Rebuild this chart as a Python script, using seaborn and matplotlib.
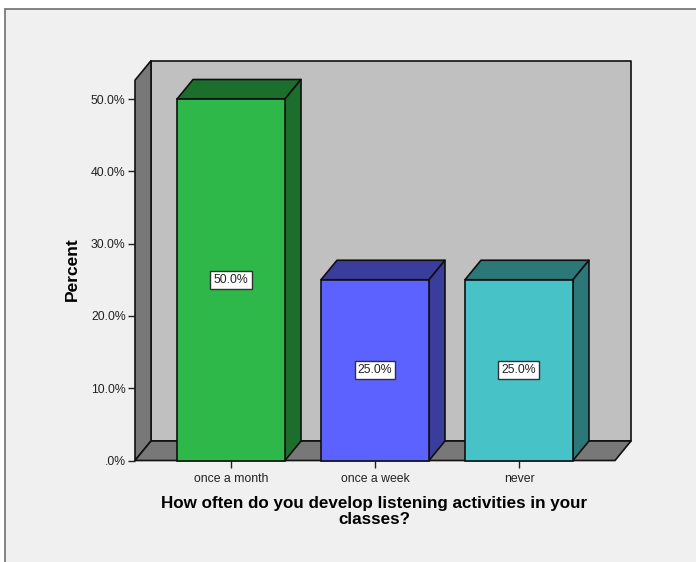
import matplotlib
matplotlib.use("Agg")
import matplotlib.pyplot as plt
import seaborn as sns
import pandas as pd
from matplotlib.patches import Rectangle

categories = ["once a month", "once a week", "never"]
percent = [50.0, 25.0, 25.0]
front_colors = ["#2EB84A", "#5B62FF", "#47C3C8"]
dark_colors = ["#1C6E2D", "#3A3D9C", "#2C7879"]
y_ticks = [0, 10, 20, 30, 40, 50]
y_labels = [".0%", "10.0%", "20.0%", "30.0%", "40.0%", "50.0%"]
x_title = "How often do you develop listening activities in your\nclasses?"
y_title = "Percent"

sns.set_theme(style="white")
plt.rcParams["font.family"] = ["Liberation Sans", "DejaVu Sans"]

W, H = 696, 562
fig = plt.figure(figsize=(W / 100, H / 100), dpi=100, facecolor="white")
fig.add_artist(Rectangle((5 / W, -0.01), 1.0, (H - 8.5) / H + 0.01, transform=fig.transFigure,
                         facecolor="#F0F0F0", edgecolor="#6E6E6E", linewidth=1.2, zorder=-5))

L, R, T, B = 135, 631, 60, 460.5
ax = fig.add_axes([L / W, 1 - B / H, (R - L) / W, (B - T) / H])
ax.patch.set_alpha(0)
for s in ax.spines.values():
    s.set_visible(False)

# scales: 144 px per category, 7.23 px per percent; depth 16 px by 19.5 px
x0, x1 = -0.667, 2.667
dx, dy = 16 / 144, 19.5 / 7.23
ytop = 52.6
edge = dict(edgecolor="#101010", linewidth=1.2, joinstyle="round")

ax.fill([x0 + dx, x1 + dx, x1 + dx, x0 + dx], [dy, dy, ytop + dy, ytop + dy], facecolor="#C0C0C0", zorder=1, clip_on=False, **edge)
ax.fill([x0, x0 + dx, x0 + dx, x0], [0, dy, ytop + dy, ytop], facecolor="#787878", zorder=1.1, clip_on=False, **edge)
ax.fill([x0, x1, x1 + dx, x0 + dx], [0, 0, dy, dy], facecolor="#787878", zorder=1.2, clip_on=False, **edge)

df = pd.DataFrame({"category": categories, "percent": percent})
sns.barplot(data=df, x="category", y="percent", hue="category", order=categories, hue_order=categories,
            palette=front_colors, width=0.75, dodge=False, legend=False, ax=ax,
            edgecolor="#101010", linewidth=1.2, saturation=1, zorder=3, clip_on=False)

hw = 0.375
for i, (v, c) in enumerate(zip(percent, dark_colors)):
    ax.fill([i - hw, i + hw, i + hw + dx, i - hw + dx], [v, v, v + dy, v + dy], facecolor=c, zorder=2, clip_on=False, **edge)
    ax.fill([i + hw, i + hw + dx, i + hw + dx, i + hw], [0, dy, v + dy, v], facecolor=c, zorder=2, clip_on=False, **edge)
    ax.text(i, v / 2, f"{v:.1f}%", ha="center", va="center", fontsize=8.8, color="#222222", zorder=5,
            bbox=dict(boxstyle="square,pad=0.26", facecolor="white", edgecolor="#303030", linewidth=1))

ax.set_xlim(x0, x1 + dx)
ax.set_ylim(0, (B - T) / 7.23)
ax.set_yticks(y_ticks, y_labels)
ax.set_xticks(range(len(categories)), categories)
ax.tick_params(axis="both", which="both", bottom=True, left=True, length=5.2, width=1, color="#222222",
               labelsize=8.8, labelcolor="#222222", pad=1.5)
ax.tick_params(axis="x", pad=3.5)
ax.set_xlabel("")
ax.set_ylabel("")
fig.text(374.5 / W, 1 - 511.5 / H, x_title, ha="center", va="center", fontsize=12.25, fontweight="bold",
         color="#000000", linespacing=1.12)
fig.text(72 / W, 1 - 269 / H, y_title, ha="center", va="center", rotation=90, fontsize=12.5, fontweight="bold",
         color="#000000")
fig.savefig("out.png", dpi=100, facecolor=fig.get_facecolor())
